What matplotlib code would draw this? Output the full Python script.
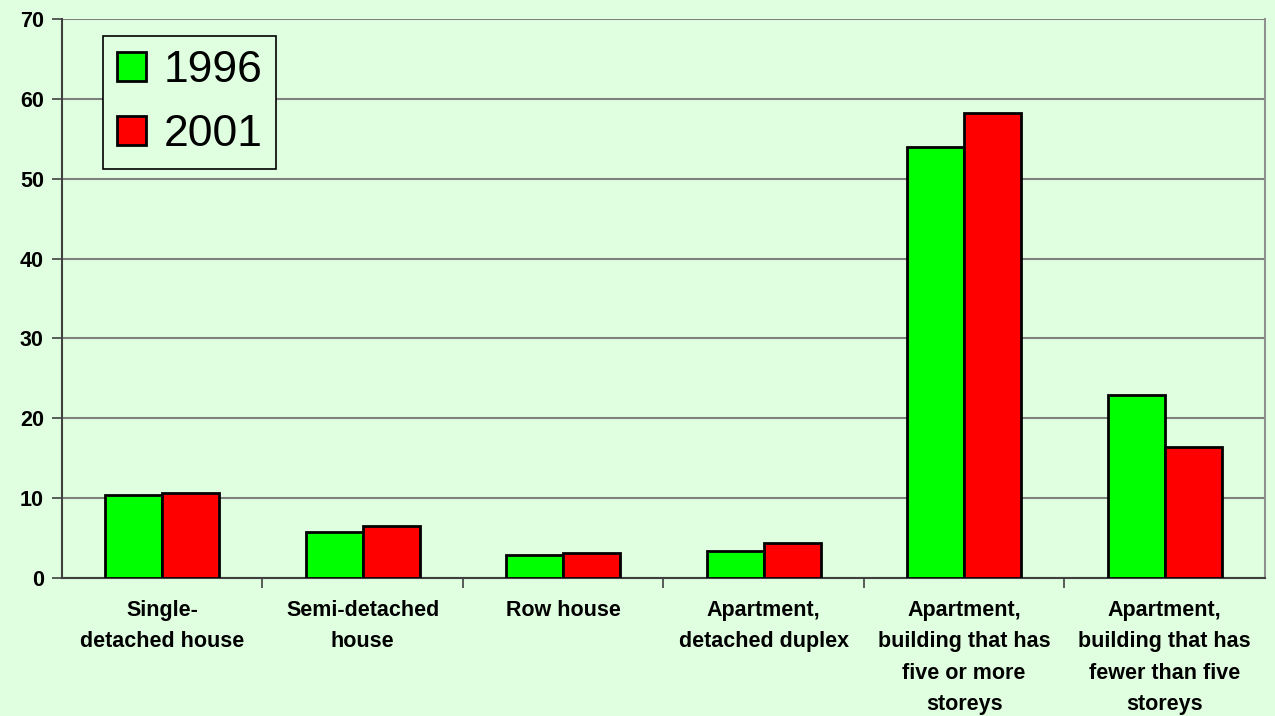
import numpy as np
import matplotlib
matplotlib.use('Agg')
import matplotlib.pyplot as plt
from matplotlib.ticker import FixedLocator

# Data
categories = ['Single-\ndetached house', 'Semi-detached\nhouse', 'Row house',
              'Apartment,\ndetached duplex',
              'Apartment,\nbuilding that has\nfive or more\nstoreys',
              'Apartment,\nbuilding that has\nfewer than five\nstoreys']
series_names = ['1996', '2001']
values_1996 = [10.4, 5.8, 2.9, 3.4, 54.0, 22.9]
values_2001 = [10.7, 6.5, 3.1, 4.4, 58.2, 16.4]
y_ticks = [0, 10, 20, 30, 40, 50, 60, 70]

bg = '#E0FFE0'
plt.rcParams['font.family'] = ['Liberation Sans', 'DejaVu Sans']

fig = plt.figure(figsize=(12.75, 7.16), dpi=100, facecolor=bg)
ax = fig.add_axes([0.0486, 0.1927, 0.9435, 0.7808])
ax.set_facecolor(bg)

x = np.arange(len(categories))
w = 0.285
ax.bar(x - w / 2, values_1996, w, color='#00FF00', edgecolor='black', linewidth=2,
       label=series_names[0], zorder=3)
ax.bar(x + w / 2, values_2001, w, color='#FF0000', edgecolor='black', linewidth=2,
       label=series_names[1], zorder=3)

ax.set_xlim(-0.5, len(categories) - 0.5)
ax.set_ylim(0, 70)
ax.set_yticks(y_ticks)
ax.set_yticklabels([str(t) for t in y_ticks], fontsize=15.5, fontweight='bold')
ax.yaxis.grid(True, color='#808080', linewidth=1.5, zorder=0)

ax.set_xticks(x)
ax.set_xticklabels(categories, fontsize=15.5, fontweight='bold', linespacing=1.64,
                   va='top')
ax.tick_params(axis='x', which='major', length=0, pad=16)
ax.xaxis.set_minor_locator(FixedLocator(np.arange(0.5, len(categories) - 0.5, 1)))
ax.tick_params(axis='x', which='minor', length=7, width=1.2, color='#404040',
               direction='out')
ax.tick_params(axis='y', length=7, width=1.2, color='#404040', pad=6)

for side in ['left', 'bottom']:
    ax.spines[side].set_color('#404040')
    ax.spines[side].set_linewidth(1.5)
ax.spines['right'].set_color('#909090')
ax.spines['right'].set_linewidth(1.5)
ax.spines['top'].set_visible(False)

leg = ax.legend(loc='upper left', bbox_to_anchor=(0.034, 0.97), fontsize=32,
                frameon=True, fancybox=False, handlelength=0.64, handleheight=0.64,
                handletextpad=0.4, borderpad=0.32, labelspacing=0.52,
                borderaxespad=0)
leg.get_frame().set_edgecolor('black')
leg.get_frame().set_facecolor(bg)
leg.get_frame().set_linewidth(1.2)
leg.get_frame().set_alpha(1)

fig.savefig('out.png', dpi=100, facecolor=bg)
